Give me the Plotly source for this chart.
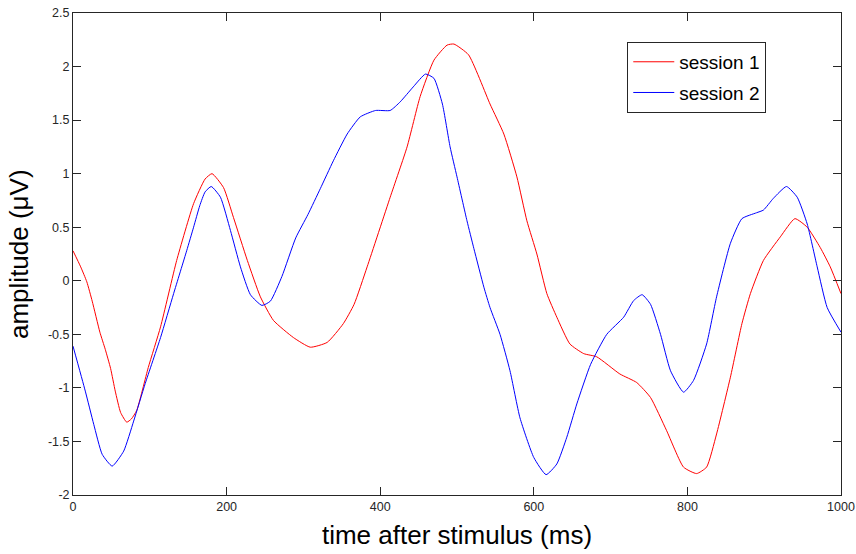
import plotly.graph_objects as go

# session 1 (red)
t1 = [0, 10, 18, 25, 35, 42, 49, 55, 62, 70, 76, 83, 98, 114, 135, 157, 172, 181, 196, 209, 227,
      244, 261, 287, 309, 331, 352, 366, 383, 413, 435, 452, 470, 487, 496, 515, 543, 561, 578,
      591, 604, 617, 630, 647, 665, 682, 712, 734, 752, 773, 795, 812, 825, 838, 856, 871, 882,
      899, 921, 940, 956, 973, 986, 1000]
v1 = [0.28, 0.13, -0.01, -0.19, -0.48, -0.64, -0.82, -1.03, -1.23, -1.32, -1.29, -1.21, -0.81,
      -0.43, 0.19, 0.72, 0.95, 1.0, 0.87, 0.59, 0.19, -0.15, -0.37, -0.53, -0.62, -0.575, -0.40,
      -0.22, 0.13, 0.78, 1.25, 1.72, 2.06, 2.2, 2.21, 2.11, 1.65, 1.37, 0.97, 0.56, 0.25, -0.12,
      -0.34, -0.59, -0.68, -0.71, -0.87, -0.95, -1.09, -1.40, -1.74, -1.80, -1.74, -1.43, -0.90,
      -0.40, -0.12, 0.19, 0.41, 0.58, 0.50, 0.31, 0.13, -0.12]

# session 2 (blue)
t2 = [0, 16, 27, 38, 51, 66, 79, 94, 114, 131, 148, 157, 165, 172, 180, 192, 205, 218, 231, 246,
      257, 272, 290, 306, 322, 339, 357, 374, 394, 413, 426, 443, 459, 470, 481, 491, 500, 513,
      522, 535, 543, 556, 569, 582, 600, 616, 630, 643, 656, 674, 695, 717, 730, 741, 752, 765,
      778, 795, 808, 825, 838, 856, 871, 890, 899, 912, 929, 943, 956, 969, 982, 1000]
v2 = [-0.61, -1.03, -1.34, -1.62, -1.73, -1.59, -1.31, -0.96, -0.53, -0.12, 0.28, 0.50, 0.70, 0.83,
      0.88, 0.78, 0.47, 0.13, -0.13, -0.23, -0.19, 0.04, 0.40, 0.62, 0.86, 1.12, 1.37, 1.53, 1.59,
      1.59, 1.67, 1.81, 1.93, 1.89, 1.65, 1.25, 0.97, 0.56, 0.30, -0.06, -0.25, -0.50, -0.84, -1.28,
      -1.65, -1.81, -1.71, -1.46, -1.15, -0.78, -0.50, -0.34, -0.185, -0.13, -0.22, -0.50, -0.84,
      -1.04, -0.93, -0.59, -0.15, 0.35, 0.58, 0.635, 0.66, 0.77, 0.88, 0.78, 0.53, 0.13, -0.25, -0.48]

x_ticks = [0, 200, 400, 600, 800, 1000]
y_ticks = [-2, -1.5, -1, -0.5, 0, 0.5, 1, 1.5, 2, 2.5]

FONT = "Liberation Sans, Arial, Helvetica"

fig = go.Figure()
fig.add_trace(go.Scatter(x=t1, y=v1, mode="lines", name="session 1", legendgroup="a",
                         line=dict(color="#ff0000", width=1, shape="spline", smoothing=0.5)))
fig.add_trace(go.Scatter(x=t2, y=v2, mode="lines", name="session 2", legendgroup="b",
                         line=dict(color="#0000ff", width=1, shape="spline", smoothing=0.5)))

axis_common = dict(showline=True, linecolor="#262626", linewidth=1, mirror="ticks",
                   ticks="inside", ticklen=8, tickcolor="#262626", showgrid=False,
                   zeroline=False, automargin=False, ticklabeloverflow="allow",
                   tickfont=dict(family=FONT, size=12.5, color="#262626"))

fig.update_layout(
    width=856, height=554,
    margin=dict(l=73, r=15, t=13, b=59),
    plot_bgcolor="white", paper_bgcolor="white",
    xaxis=dict(range=[0, 1000], tickvals=x_ticks, ticktext=[str(v) for v in x_ticks],
               title=dict(text="time after stimulus (ms)", standoff=12,
                          font=dict(family=FONT, size=26, color="black")),
               **axis_common),
    yaxis=dict(range=[-2, 2.5], tickvals=y_ticks, ticktext=[f"{v:g}" for v in y_ticks],
               **axis_common),
    legend=dict(x=0.7217, y=0.94, xanchor="left", yanchor="top", bgcolor="white",
                bordercolor="#262626", borderwidth=1, tracegroupgap=3,
                traceorder="grouped", itemwidth=41,
                font=dict(family=FONT, size=19, color="black")),
    showlegend=True,
    annotations=[dict(text="amplitude (μV)", textangle=-90, xref="paper", yref="paper",
                      x=0, y=0.5, xanchor="center", yanchor="middle", xshift=-54,
                      showarrow=False, font=dict(family=FONT, size=26, color="black"))],
)

# remove the browser's default 8px page margin so the figure fills the window exactly
fig.write_html("out.html", config={"displayModeBar": False},
               post_script="document.body.style.margin='0';")
